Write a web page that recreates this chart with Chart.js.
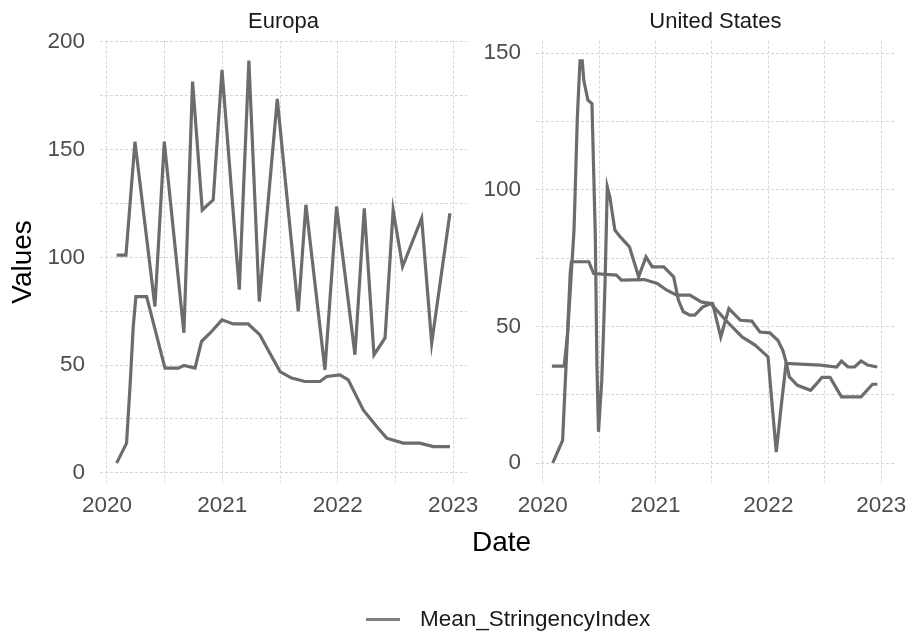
<!DOCTYPE html>
<html>
<head>
<meta charset="utf-8">
<script src="https://cdn.jsdelivr.net/npm/chart.js@4.4.1/dist/chart.umd.min.js"></script>
<style>
  html, body { margin: 0; padding: 0; background: #ffffff; }
  #page { position: relative; width: 916px; height: 633px; overflow: hidden;
          font-family: "Liberation Sans", Arial, sans-serif; background: #ffffff; }
  #page canvas { position: absolute; left: 0; top: 0; }
  #xTitle { position: absolute; left: 0; width: 1003px; top: 525px; text-align: center;
            font-size: 28px; line-height: 34px; color: #000000; }
  #legend { position: absolute; left: 366px; top: 605px; height: 28px; display: flex; align-items: center;
            font-size: 22.5px; color: #1a1a1a; white-space: nowrap; }
  #legend .swatch { width: 34px; height: 3px; background: #808080; margin-right: 20px; }
</style>
</head>
<body>
<div id="page">
  <canvas id="europa" width="916" height="633"></canvas>
  <canvas id="us" width="916" height="633"></canvas>
  <div id="xTitle">Date</div>
  <div id="legend"></div>
</div>
<script>
// Panel titles, axis labels and the plotted variable
const panelTitles = ["Europa", "United States"];
const xTickYears = [2020, 2021, 2022, 2023];
const europaYTicks = [0, 50, 100, 150, 200];
const usYTicks = [0, 50, 100, 150];
const seriesName = "Mean_StringencyIndex";

// Europa: upper (oscillating) trace, decimal years and values
const europaUpperDates = [2020.084, 2020.165, 2020.243, 2020.416, 2020.497, 2020.667, 2020.742, 2020.826, 2020.921,
  2020.997, 2021.147, 2021.23, 2021.32, 2021.476, 2021.658, 2021.724, 2021.889, 2021.99, 2022.149, 2022.23,
  2022.314, 2022.41, 2022.48, 2022.562, 2022.727, 2022.814, 2022.972];
const europaUpperValues = [101, 101, 153.7, 77.2, 153.7, 65, 181.6, 122, 126.7,
  187, 85, 191.3, 79.5, 173.5, 74.9, 124.4, 47.8, 123.6, 54.8, 122.8,
  54.8, 62.6, 122, 95.7, 118.2, 60.2, 120.5];

// Europa: lower (smooth) trace
const europaLowerDates = [2020.084, 2020.17, 2020.2, 2020.228, 2020.251, 2020.344, 2020.503, 2020.618, 2020.667,
  2020.763, 2020.82, 2020.893, 2020.997, 2021.094, 2021.224, 2021.326, 2021.412, 2021.5, 2021.6, 2021.716,
  2021.846, 2021.904, 2022.019, 2022.091, 2022.221, 2022.337, 2022.424, 2022.568, 2022.712, 2022.828, 2022.972];
const europaLowerValues = [4.5, 13.8, 40, 67.9, 81.8, 81.8, 48.6, 48.6, 49.8,
  48.6, 61, 64.8, 71, 69.1, 69.1, 64, 55.5, 47, 44, 42.4,
  42.4, 44.7, 45.5, 43.2, 29.2, 21.5, 16.1, 13.8, 13.8, 12.2, 12.2];

// United States: trace with the spring 2020 spike
const usSpikeDates = [2020.089, 2020.176, 2020.19, 2020.22, 2020.277, 2020.292, 2020.306, 2020.33, 2020.35,
  2020.364, 2020.4, 2020.436, 2020.451, 2020.466, 2020.48, 2020.494, 2020.523, 2020.538, 2020.552, 2020.572,
  2020.595, 2020.639, 2020.688, 2020.769, 2020.85, 2020.915, 2020.971, 2021.073, 2021.16, 2021.203, 2021.246,
  2021.304, 2021.347, 2021.42, 2021.49, 2021.506, 2021.578, 2021.65, 2021.752, 2021.853, 2021.925, 2022.012,
  2022.084, 2022.128, 2022.157, 2022.186, 2022.258, 2022.374, 2022.43, 2022.474, 2022.547, 2022.648, 2022.822,
  2022.923, 2022.966];
const usSpikeValues = [0.1, 8.4, 21.2, 47.5, 85.3, 106, 126.1, 147.2, 147.2,
  140, 132.8, 131.6, 107.2, 82.8, 35.9, 11.5, 30.4, 47.5, 65.8, 101.1,
  97.4, 85.3, 82.8, 79.1, 68.2, 75.5, 71.8, 71.8, 68.2, 59.6, 55.4,
  54.2, 54.2, 57.2, 58.4, 58.4, 46.2, 56.6, 52.3, 52, 48, 47.7,
  45, 41.3, 37.1, 31.6, 28.5, 26.7, 29.2, 31.4, 31.4, 24.3, 24.3,
  28.9, 28.9];

// United States: trace starting flat, with the early-2022 dip
const usFlatDates = [2020.081, 2020.19, 2020.22, 2020.243, 2020.254, 2020.408, 2020.451, 2020.653, 2020.697,
  2020.9, 2021.015, 2021.1, 2021.188, 2021.304, 2021.405, 2021.49, 2021.622, 2021.767, 2021.882, 2021.997,
  2022.04, 2022.07, 2022.113, 2022.157, 2022.46, 2022.605, 2022.648, 2022.706, 2022.764, 2022.822, 2022.88,
  2022.966];
const usFlatValues = [35.5, 35.5, 47.5, 69.4, 73.7, 73.7, 69.4, 68.8, 67,
  67.2, 65.8, 63.3, 61.5, 61.5, 59, 58.4, 52.3, 46.2, 43.2, 38.9,
  18.2, 4.1, 20.6, 36.5, 35.9, 35.2, 37.4, 35.2, 35.2, 37.4, 35.9,
  35.2];

const LINE_COLOR = "#6c6c6c";
const GRID_COLOR = "#d6d6d6";
const FONT = "'Liberation Sans', Arial, sans-serif";
const PLOT_BOTTOM = 483.2;

function toPoints(dates, values) {
  return dates.map((d, i) => ({ x: d, y: values[i] }));
}

function lineDataset(label, dates, values) {
  return {
    label: label,
    data: toPoints(dates, values),
    borderColor: LINE_COLOR,
    borderWidth: 3.2,
    pointRadius: 0,
    pointHoverRadius: 0,
    tension: 0,
    fill: false
  };
}

// Major and minor (half-step) grid positions
function withMinor(majors) {
  const out = [];
  for (let i = 0; i < majors.length; i++) {
    out.push(majors[i]);
    if (i < majors.length - 1) out.push((majors[i] + majors[i + 1]) / 2);
  }
  return out;
}

function panelOptions(cfg) {
  const xPositions = withMinor(xTickYears);
  const yPositions = withMinor(cfg.yTicks);
  return {
    responsive: false,
    animation: false,
    events: [],
    layout: { padding: { left: cfg.padLeft, right: cfg.padRight, top: 0, bottom: 0 } },
    plugins: {
      legend: { display: false },
      tooltip: { enabled: false },
      title: {
        display: true,
        text: cfg.title,
        fullSize: false,
        color: "#1a1a1a",
        font: { family: FONT, size: 22, weight: "normal", lineHeight: 1.2 },
        padding: { top: 8.5, bottom: 5.7 }
      }
    },
    scales: {
      x: {
        type: "linear",
        min: cfg.xMin,
        max: cfg.xMax,
        afterBuildTicks: (scale) => { scale.ticks = xPositions.map(v => ({ value: v })); },
        afterFit: (scale) => { scale.height = 633 - PLOT_BOTTOM; },
        ticks: {
          autoSkip: false,
          maxRotation: 0,
          padding: 9,
          color: "#4d4d4d",
          font: { family: FONT, size: 22.5 },
          callback: (v) => (Math.abs(v - Math.round(v)) < 1e-6 ? String(Math.round(v)) : "")
        },
        grid: { color: GRID_COLOR, lineWidth: 1, drawTicks: false },
        border: { display: false, dash: [3, 2] }
      },
      y: {
        type: "linear",
        min: cfg.yMin,
        max: cfg.yMax,
        afterBuildTicks: (scale) => { scale.ticks = yPositions.map(v => ({ value: v })); },
        afterFit: (scale) => { scale.width = cfg.yWidth; },
        ticks: {
          autoSkip: false,
          padding: 15,
          color: "#4d4d4d",
          font: { family: FONT, size: 22.5 },
          callback: (v) => (cfg.yTicks.includes(v) ? String(v) : "")
        },
        grid: { color: GRID_COLOR, lineWidth: 1, drawTicks: false },
        border: { display: false, dash: [3, 2] },
        title: {
          display: cfg.showYTitle,
          text: "Values",
          color: "#000000",
          font: { family: FONT, size: 28, lineHeight: 1.2 },
          padding: { top: 6.4, bottom: 0 }
        }
      }
    }
  };
}

new Chart(document.getElementById("europa"), {
  type: "line",
  data: {
    datasets: [
      lineDataset(seriesName, europaUpperDates, europaUpperValues),
      lineDataset(seriesName, europaLowerDates, europaLowerValues)
    ]
  },
  options: panelOptions({
    title: panelTitles[0], padLeft: 0, padRight: 916 - 467, yWidth: 100,
    xMin: 2019.94, xMax: 2023.12, yMin: -4.8, yMax: 200.6,
    yTicks: europaYTicks, showYTitle: true
  })
});

new Chart(document.getElementById("us"), {
  type: "line",
  data: {
    datasets: [
      lineDataset(seriesName, usSpikeDates, usSpikeValues),
      lineDataset(seriesName, usFlatDates, usFlatValues)
    ]
  },
  options: panelOptions({
    title: panelTitles[1], padLeft: 436, padRight: 916 - 903, yWidth: 100,
    xMin: 2019.94, xMax: 2023.12, yMin: -7.3, yMax: 154.6,
    yTicks: usYTicks, showYTitle: false
  })
});

// Shared legend entry for the plotted variable
const legend = document.getElementById("legend");
const swatch = document.createElement("span");
swatch.className = "swatch";
const label = document.createElement("span");
label.textContent = seriesName;
legend.appendChild(swatch);
legend.appendChild(label);
</script>
</body>
</html>
